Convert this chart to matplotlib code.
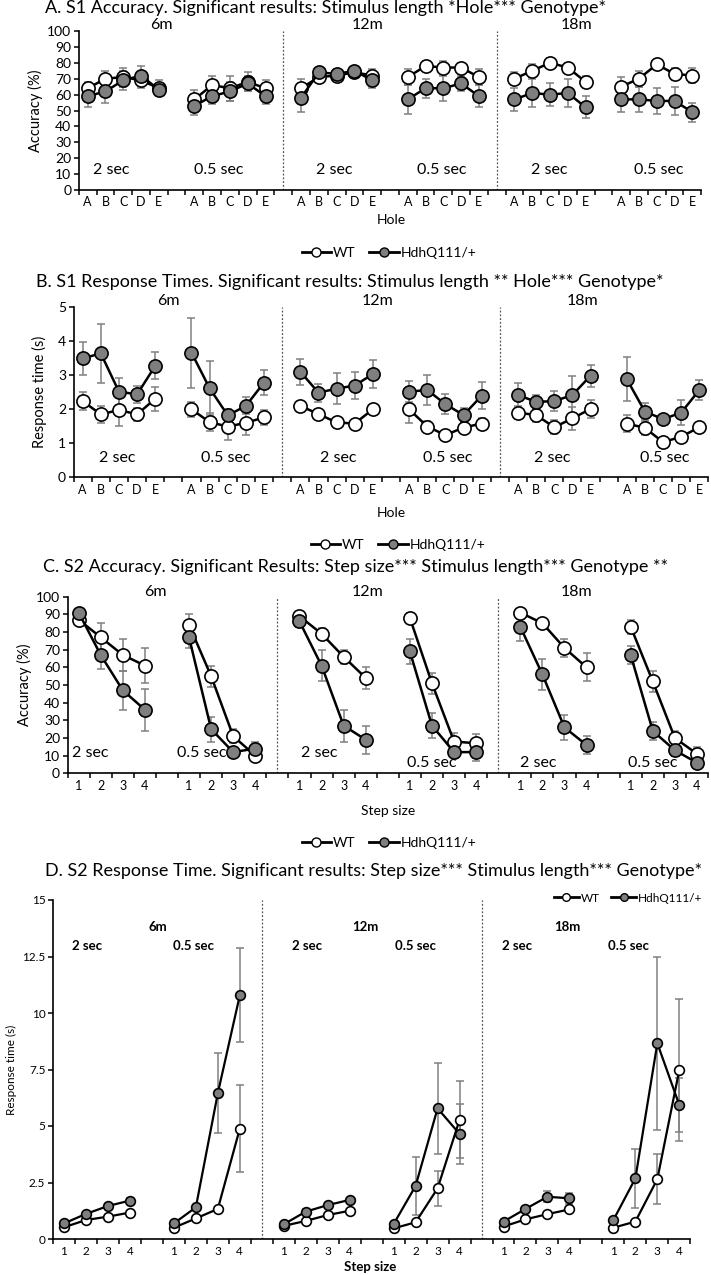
import matplotlib
matplotlib.use('Agg')
import matplotlib.pyplot as plt
from matplotlib.lines import Line2D
import numpy as np

plt.rcParams['font.family'] = ['Lato', 'DejaVu Sans']

# ---- data ----
# each list = 6 groups: 6m 2s, 6m 0.5s, 12m 2s, 12m 0.5s, 18m 2s, 18m 0.5s
holes = ['A', 'B', 'C', 'D', 'E']
steps = ['1', '2', '3', '4']

a_wt = [[64, 70, 71, 69, 64], [57, 66, 64, 68, 64], [64, 71, 72, 74, 72],
        [71, 78, 77, 77, 71], [70, 75, 80, 77, 68], [65, 70, 79, 73, 72]]
a_wt_err = [[4, 5, 6, 5, 5], [6, 6, 8, 6, 5], [6, 3, 3, 2, 4],
            [5, 3, 4, 3, 5], [4, 4, 3, 3, 4], [6, 5, 3, 4, 5]]
a_het = [[59, 62, 69, 72, 63], [53, 59, 62, 67, 59], [58, 74, 73, 75, 69],
         [57, 64, 64, 67, 59], [57, 61, 60, 61, 52], [57, 57, 56, 56, 49]]
a_het_err = [[7, 7, 6, 6, 3], [6, 5, 6, 5, 5], [9, 3, 3, 2, 5],
             [9, 6, 8, 5, 7], [7, 9, 7, 9, 7], [8, 8, 8, 9, 6]]

b_wt = [[2.23, 1.84, 1.97, 1.84, 2.30], [1.99, 1.61, 1.48, 1.59, 1.75],
        [2.09, 1.85, 1.60, 1.57, 1.99], [1.99, 1.48, 1.23, 1.45, 1.57],
        [1.89, 1.82, 1.46, 1.72, 2.00], [1.57, 1.44, 1.02, 1.18, 1.46]]
b_wt_err = [[0.27, 0.25, 0.47, 0.2, 0.35], [0.22, 0.27, 0.4, 0.36, 0.22],
            [0.08, 0.1, 0.08, 0.1, 0.1], [0.4, 0.15, 0.1, 0.15, 0.15],
            [0.2, 0.2, 0.2, 0.35, 0.27], [0.25, 0.2, 0.1, 0.12, 0.1]]
b_het = [[3.49, 3.64, 2.51, 2.43, 3.27], [3.66, 2.61, 1.81, 2.09, 2.78],
         [3.10, 2.48, 2.60, 2.69, 3.03], [2.51, 2.56, 2.14, 1.82, 2.39],
         [2.41, 2.21, 2.23, 2.41, 2.98], [2.88, 1.92, 1.70, 1.89, 2.56]]
b_het_err = [[0.49, 0.86, 0.4, 0.25, 0.4], [1.03, 0.8, 0.2, 0.25, 0.37],
             [0.38, 0.27, 0.45, 0.4, 0.4], [0.3, 0.43, 0.3, 0.2, 0.4],
             [0.35, 0.2, 0.3, 0.55, 0.33], [0.64, 0.25, 0.1, 0.37, 0.3]]

c_wt = [[87, 77, 67, 61], [84, 55, 21, 10], [89, 79, 66, 54],
        [88, 51, 18, 17], [91, 85, 71, 60], [83, 52, 20, 11]]
c_wt_err = [[2, 8, 9, 10], [6, 6, 4, 2], [2, 3, 4, 6],
            [3, 6, 5, 5], [2, 2, 5, 8], [4, 6, 4, 4]]
c_het = [[91, 67, 47, 36], [77, 25, 12, 14], [86, 61, 27, 19],
         [69, 27, 12, 12], [83, 56, 26, 16], [67, 24, 13, 6]]
c_het_err = [[2, 8, 11, 12], [6, 7, 3, 4], [3, 9, 9, 8],
             [7, 7, 3, 5], [8, 9, 7, 5], [5, 5, 3, 2]]

d_wt = [[0.52, 0.84, 0.99, 1.17], [0.50, 0.91, 1.33, 4.88],
        [0.58, 0.80, 1.06, 1.25], [0.47, 0.74, 2.24, 5.27],
        [0.55, 0.87, 1.10, 1.31], [0.50, 0.77, 2.65, 7.48]]
d_wt_err = [[0.05, 0.05, 0.05, 0.08], [0.05, 0.08, 0.1, 1.93],
            [0.05, 0.06, 0.06, 0.08], [0.05, 0.08, 0.76, 1.7],
            [0.05, 0.06, 0.06, 0.08], [0.05, 0.08, 1.12, 3.14]]
d_het = [[0.69, 1.11, 1.46, 1.70], [0.69, 1.40, 6.45, 10.78],
         [0.65, 1.21, 1.50, 1.73], [0.66, 2.35, 5.78, 4.65],
         [0.77, 1.33, 1.87, 1.80], [0.84, 2.68, 8.66, 5.93]]
d_het_err = [[0.08, 0.1, 0.1, 0.12], [0.1, 0.12, 1.76, 2.08],
             [0.08, 0.1, 0.1, 0.1], [0.1, 1.28, 2.0, 1.33],
             [0.08, 0.1, 0.25, 0.25], [0.1, 1.32, 3.82, 1.2]]

ages = ['6m', '12m', '18m']
stims = ['2 sec', '0.5 sec'] * 3
genotypes = ['WT', 'HdhQ111/+']

GREY = '#7f7f7f'
ERR = '#808080'

W, H = 711, 1275
fig = plt.figure(figsize=(W / 100, H / 100), dpi=100)


def px(x, y):
    return x / W, 1 - y / H


def rect(l, r, t, b):
    return [l / W, 1 - b / H, (r - l) / W, (b - t) / H]


def panel(box, wt, wt_err, het, het_err, cats, ylim, yticks, yticklabels,
          ms=9.5, tick_fs=10, xtick_fs=9, xpad=5, lw=1.8):
    ax = fig.add_axes(box)
    n = len(cats)
    stepw = n + 1
    total = len(wt) * stepw - 1
    centers, labels = [], []
    for g in range(len(wt)):
        xs = np.arange(n) + g * stepw
        centers.extend(xs)
        labels.extend(cats)
        ax.errorbar(xs, wt[g], yerr=wt_err[g], fmt='none', ecolor=ERR,
                    elinewidth=1.1, capsize=3, capthick=1.1, zorder=2)
        ax.errorbar(xs, het[g], yerr=het_err[g], fmt='none', ecolor=ERR,
                    elinewidth=1.1, capsize=3, capthick=1.1, zorder=2)
        ax.plot(xs, wt[g], '-o', color='black', mfc='white', mec='black',
                mew=1.2, ms=ms, lw=lw, zorder=3)
        ax.plot(xs, het[g], '-o', color='black', mfc=GREY, mec='black',
                mew=1.2, ms=ms, lw=lw, zorder=4)
    for g in (2, 4):
        ax.axvline(g * stepw - 1, color='#555555', ls=(0, (1.5, 1.5)), lw=0.9, zorder=1)
    ax.set_xlim(-0.5, total - 0.5)
    ax.set_ylim(*ylim)
    ax.set_yticks(yticks)
    ax.set_yticklabels(yticklabels, fontsize=tick_fs)
    ax.set_xticks(np.arange(-0.5, total, 1.0))
    ax.set_xticklabels([])
    ax.set_xticks(centers, labels, minor=True, fontsize=xtick_fs)
    ax.tick_params(axis='x', which='minor', length=0, pad=xpad)
    ax.tick_params(axis='y', pad=2)
    ax.tick_params(axis='both', which='major', length=3.5, width=1.1, direction='out')
    for s in ('top', 'right'):
        ax.spines[s].set_visible(False)
    for s in ('left', 'bottom'):
        ax.spines[s].set_linewidth(1.2)
    return ax


def legend(xc, yc, fs=10, ms=6.5):
    h = [Line2D([], [], color='black', lw=2, marker='o', mfc='white', mec='black', ms=ms),
         Line2D([], [], color='black', lw=2, marker='o', mfc=GREY, mec='black', ms=ms)]
    fig.legend(h, genotypes, loc='center', bbox_to_anchor=px(xc, yc), ncol=2,
               frameon=False, fontsize=fs, handlelength=2.1, handletextpad=0.15,
               columnspacing=1.0, borderpad=0, borderaxespad=0)


def put(x, y, s, fs, **kw):
    fig.text(*px(x, y), s, fontsize=fs, ha='center', va='center', **kw)


TITLE_FS = 13
AGE_FS = 11.5
STIM_FS = 11.5

# ---- A ----
axA = panel(rect(78.8, 701.2, 31, 190), a_wt, a_wt_err, a_het, a_het_err, holes,
            (0, 100), range(0, 101, 10), [str(v) for v in range(0, 101, 10)], xpad=4)
axA.set_ylabel('Accuracy (%)', fontsize=10.5, labelpad=3)
fig.text(*px(45, 8), 'A. S1 Accuracy. Significant results: Stimulus length *Hole*** Genotype*',
         fontsize=TITLE_FS, ha='left', va='center')
for x, s in zip([161, 368, 576], ages):
    put(x, 25, s, AGE_FS)
for x, s in zip([111, 219, 334, 442, 549, 659], stims):
    put(x, 170, s, STIM_FS)
put(391, 220, 'Hole', 10)
legend(389, 253)

# ---- B ----
axB = panel(rect(73.6, 708.4, 307.3, 476.7), b_wt, b_wt_err, b_het, b_het_err, holes,
            (0, 5), range(0, 6), [str(v) for v in range(0, 6)])
axB.set_ylabel('Response time (s)', fontsize=10.5, labelpad=8)
fig.text(*px(36, 282), 'B. S1 Response Times. Significant results: Stimulus length ** Hole*** Genotype*',
         fontsize=TITLE_FS, ha='left', va='center')
for x, s in zip([168, 378, 583], ages):
    put(x, 301, s, AGE_FS)
for x, s in zip([117, 226, 338, 448, 552, 665], stims):
    put(x, 458, s, STIM_FS)
put(391, 513, 'Hole', 10)
legend(398, 545)

# ---- C ----
axC = panel(rect(67.6, 708, 596.7, 773.3), c_wt, c_wt_err, c_het, c_het_err, steps,
            (0, 100), range(0, 101, 10), [str(v) for v in range(0, 101, 10)])
axC.set_ylabel('Accuracy (%)', fontsize=10.5, labelpad=3)
fig.text(*px(43, 567), 'C. S2 Accuracy. Significant Results: Step size*** Stimulus length*** Genotype **',
         fontsize=TITLE_FS, ha='left', va='center')
for x, s in zip([155, 368, 577], ages):
    put(x, 592, s, AGE_FS)
for x, y, s in zip([90, 202, 319, 432, 538, 653], [753, 753, 753, 763, 763, 763], stims):
    put(x, y, s, STIM_FS)
put(388, 811, 'Step size', 10)
legend(389, 843)

# ---- D ----
d_ticks = [0, 2.5, 5, 7.5, 10, 12.5, 15]
axD = panel(rect(53, 690.3, 900, 1239), d_wt, d_wt_err, d_het, d_het_err, steps,
            (0, 15), d_ticks, ['0', '2.5', '5', '7.5', '10', '12.5', '15'],
            ms=7, tick_fs=8.5, xtick_fs=8.5, lw=1.6)
axD.set_ylabel('Response time (s)', fontsize=8.5, labelpad=4)
fig.text(*px(45, 871), 'D. S2 Response Time. Significant results: Step size*** Stimulus length*** Genotype*',
         fontsize=TITLE_FS, ha='left', va='center')
for x, s in zip([158, 365, 567], ages):
    put(x, 927, s, 9.5, fontweight='bold')
for x, s in zip([87, 194, 307, 415, 517, 628], stims):
    put(x, 946, s, 9.5, fontweight='bold')
put(370, 1267, 'Step size', 9.5, fontweight='bold')
legend(628, 898, fs=8.5, ms=5.5)

fig.savefig('out.png', dpi=100)
